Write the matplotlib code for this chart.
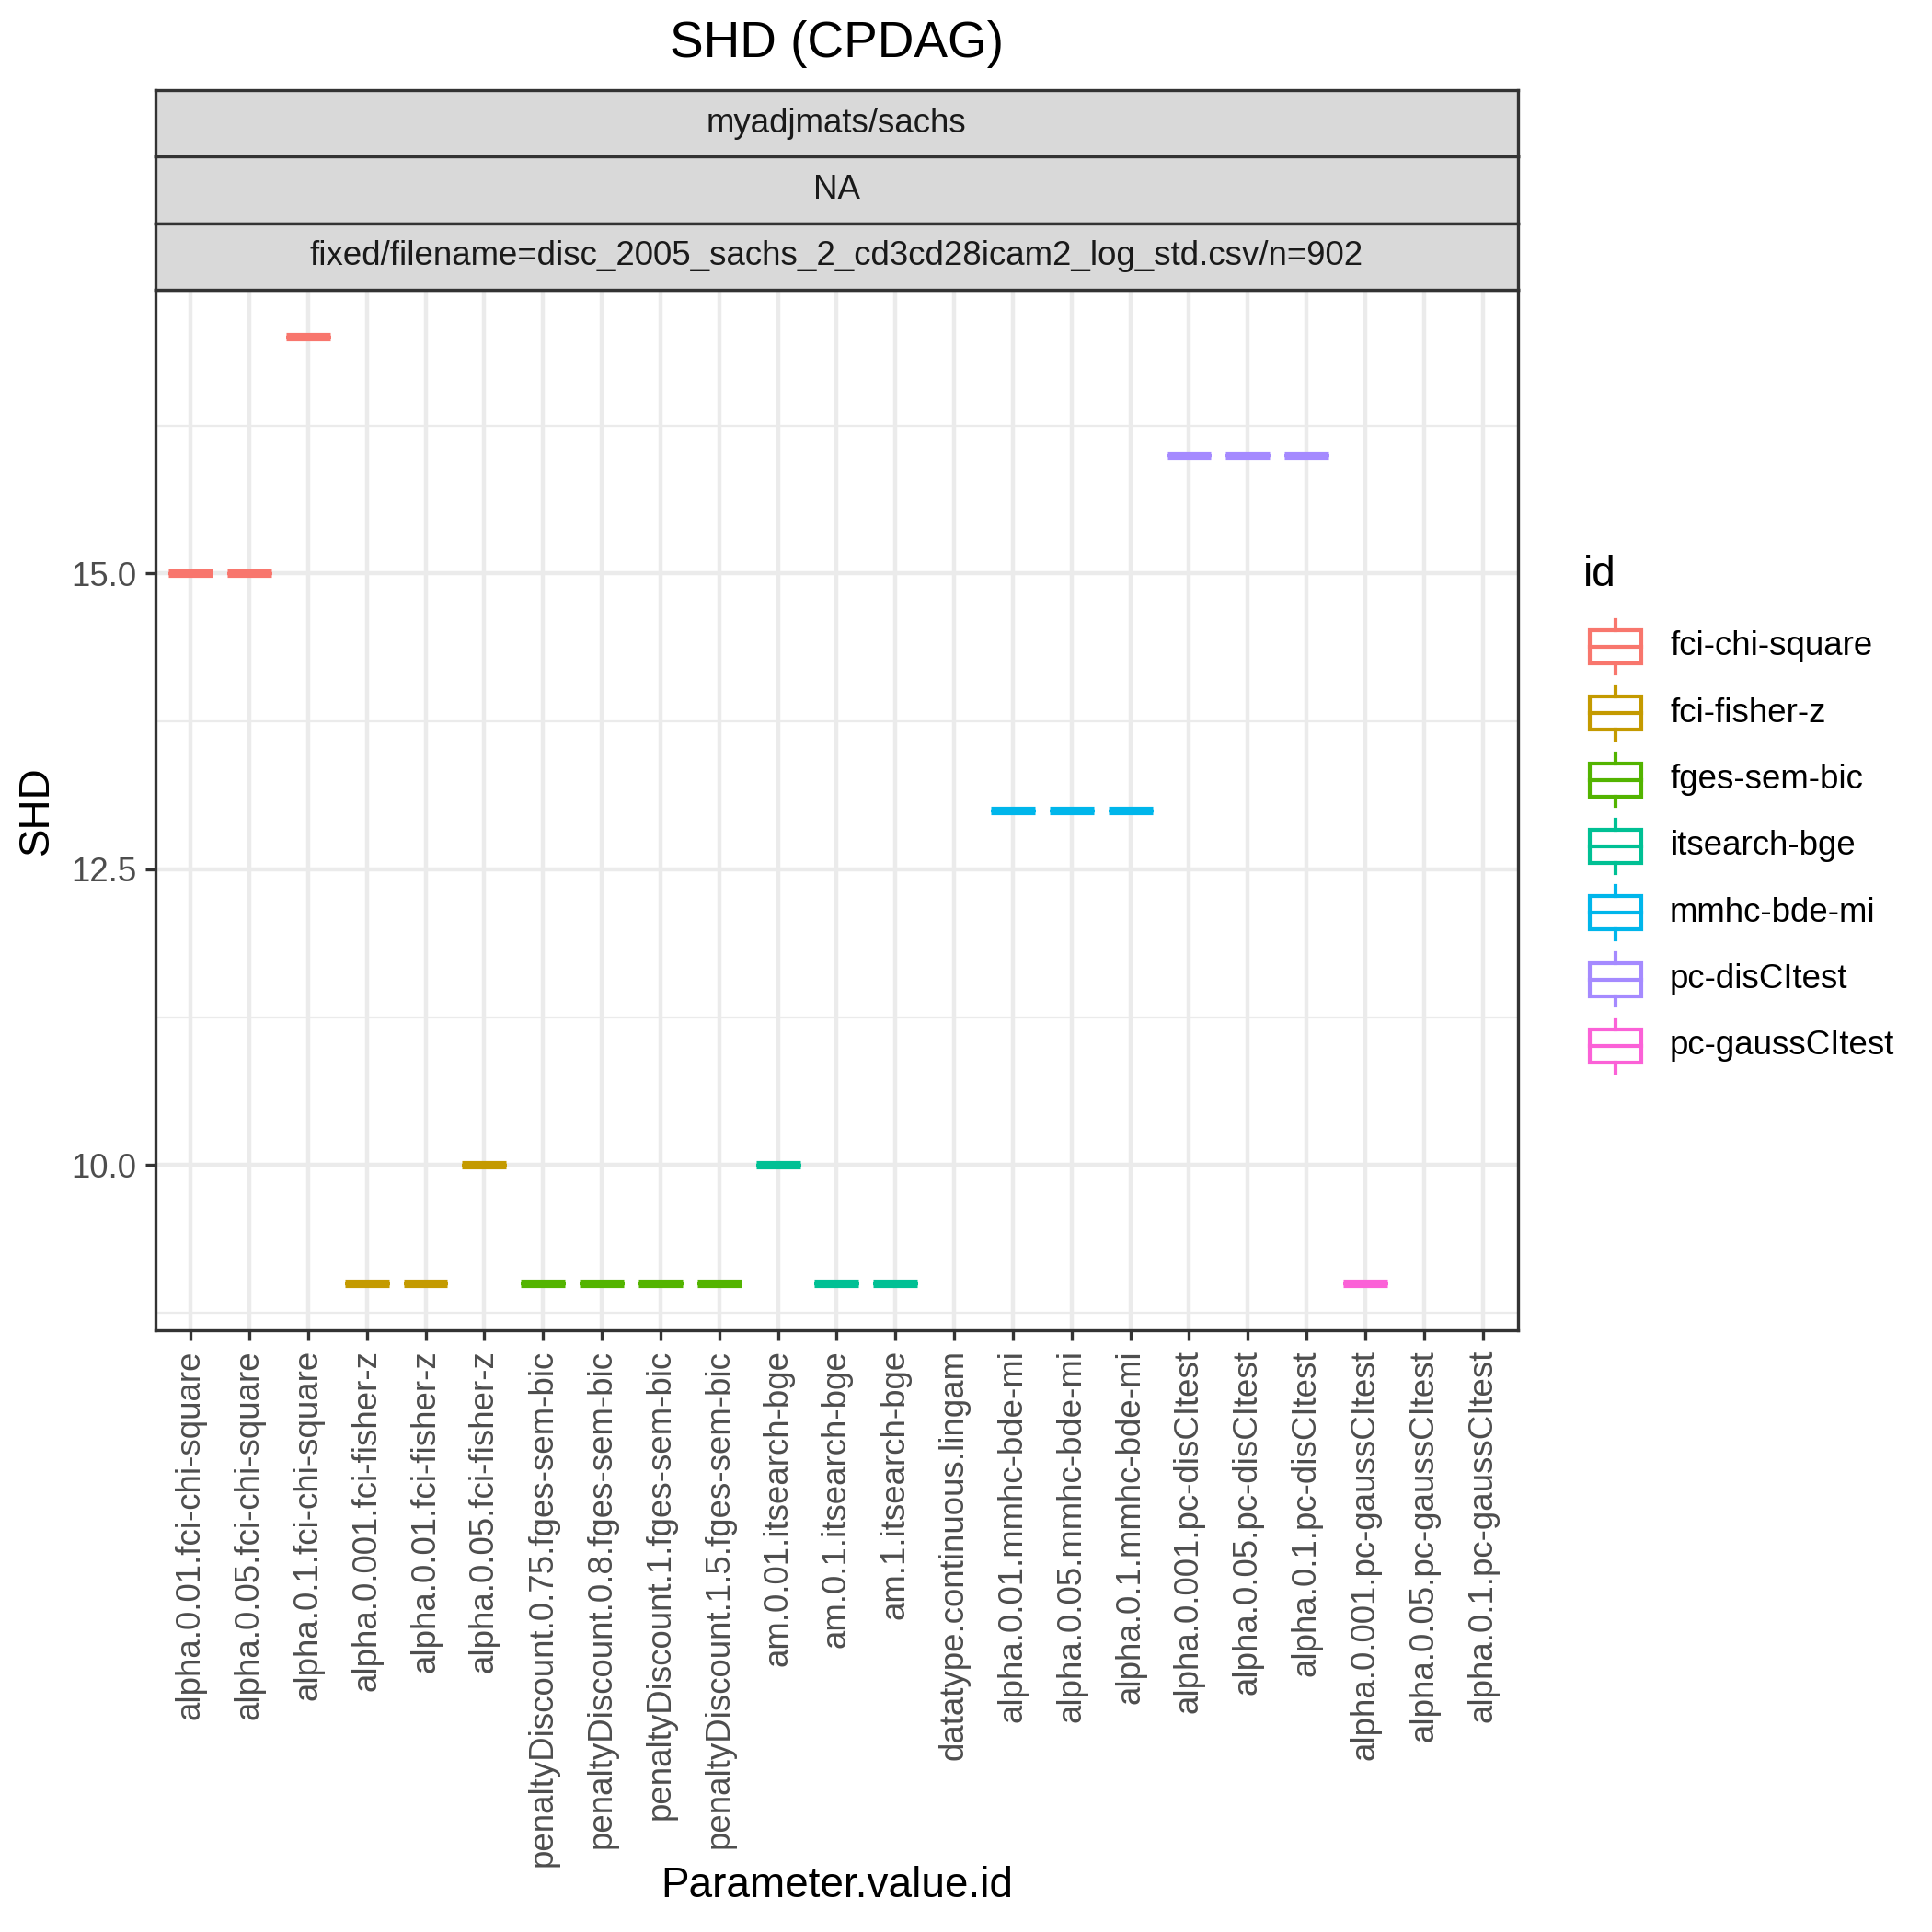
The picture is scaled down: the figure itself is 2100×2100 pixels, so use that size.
import numpy as np
import matplotlib
matplotlib.use("Agg")
import matplotlib.pyplot as plt
from matplotlib.patches import Rectangle
from matplotlib.lines import Line2D

plt.rcParams['font.family'] = ['Liberation Sans', 'DejaVu Sans']

# data
params = [
    "alpha.0.01.fci-chi-square", "alpha.0.05.fci-chi-square", "alpha.0.1.fci-chi-square",
    "alpha.0.001.fci-fisher-z", "alpha.0.01.fci-fisher-z", "alpha.0.05.fci-fisher-z",
    "penaltyDiscount.0.75.fges-sem-bic", "penaltyDiscount.0.8.fges-sem-bic",
    "penaltyDiscount.1.fges-sem-bic", "penaltyDiscount.1.5.fges-sem-bic",
    "am.0.01.itsearch-bge", "am.0.1.itsearch-bge", "am.1.itsearch-bge",
    "datatype.continuous.lingam",
    "alpha.0.01.mmhc-bde-mi", "alpha.0.05.mmhc-bde-mi", "alpha.0.1.mmhc-bde-mi",
    "alpha.0.001.pc-disCItest", "alpha.0.05.pc-disCItest", "alpha.0.1.pc-disCItest",
    "alpha.0.001.pc-gaussCItest", "alpha.0.05.pc-gaussCItest", "alpha.0.1.pc-gaussCItest",
]
ids = [
    "fci-chi-square", "fci-chi-square", "fci-chi-square",
    "fci-fisher-z", "fci-fisher-z", "fci-fisher-z",
    "fges-sem-bic", "fges-sem-bic", "fges-sem-bic", "fges-sem-bic",
    "itsearch-bge", "itsearch-bge", "itsearch-bge",
    "lingam",
    "mmhc-bde-mi", "mmhc-bde-mi", "mmhc-bde-mi",
    "pc-disCItest", "pc-disCItest", "pc-disCItest",
    "pc-gaussCItest", "pc-gaussCItest", "pc-gaussCItest",
]
shd = [15, 15, 17, 9, 9, 10, 9, 9, 9, 9, 10, 9, 9, np.nan,
       13, 13, 13, 16, 16, 16, 9, np.nan, np.nan]

legend_ids = ["fci-chi-square", "fci-fisher-z", "fges-sem-bic", "itsearch-bge",
              "mmhc-bde-mi", "pc-disCItest", "pc-gaussCItest"]
legend_colors = ["#F8766D", "#C49A00", "#53B400", "#00C094",
                 "#00B6EB", "#A58AFF", "#FB61D7"]
strips = ["myadjmats/sachs", "NA",
          "fixed/filename=disc_2005_sachs_2_cd3cd28icam2_log_std.csv/n=902"]

col_of = dict(zip(legend_ids, legend_colors))
grey20 = "#333333"
grey30 = "#4D4D4D"

fig = plt.figure(figsize=(7, 7), dpi=300)
ax = fig.add_axes([0.0804, 0.3112, 0.7053, 0.5389])

x = np.arange(len(params))
for xi, v, g in zip(x, shd, ids):
    if np.isnan(v):
        continue
    c = col_of[g]
    ax.boxplot([[v]], positions=[xi], widths=0.75, showcaps=False, showfliers=False,
               manage_ticks=False,
               boxprops=dict(color=c, linewidth=0.8, solid_joinstyle="bevel",
                             solid_capstyle="butt"),
               whiskerprops=dict(color=c, linewidth=0.8),
               medianprops=dict(color=c, linewidth=2.2, solid_capstyle="butt"))

ax.set_xlim(-0.6, len(params) - 1 + 0.6)
ax.set_ylim(8.6, 17.4)
ax.set_xticks(x)
ax.set_xticklabels(params, rotation=90, fontsize=8.8, color=grey30)
ax.set_yticks([10, 12.5, 15])
ax.set_yticklabels(["10.0", "12.5", "15.0"], fontsize=8.8, color=grey30)
ax.set_yticks([8.75, 11.25, 13.75, 16.25], minor=True)
ax.tick_params(axis="both", which="major", length=2.75, width=0.8, color=grey20, pad=2.2)
ax.tick_params(axis="y", which="minor", length=0)
ax.grid(True, which="major", color="#EBEBEB", linewidth=1.07)
ax.grid(True, which="minor", axis="y", color="#EBEBEB", linewidth=0.53)
ax.set_axisbelow(True)
for s in ax.spines.values():
    s.set_color(grey20)
    s.set_linewidth(0.8)

# facet strips
sh = 0.0344
for k, label in enumerate(strips):
    b = 0.8501 + (len(strips) - 1 - k) * sh
    sax = fig.add_axes([0.0804, b, 0.7053, sh])
    sax.set_facecolor("#D9D9D9")
    sax.set_xticks([])
    sax.set_yticks([])
    for s in sax.spines.values():
        s.set_color(grey20)
        s.set_linewidth(0.8)
    sax.text(0.5, 0.5, label, ha="center", va="center", fontsize=8.8,
             color="#1A1A1A", transform=sax.transAxes)

fig.text(0.0804 + 0.7053 / 2, 0.977, "SHD (CPDAG)", ha="center", va="center", fontsize=13.2)
fig.text(0.0804 + 0.7053 / 2, 0.024, "Parameter.value.id", ha="center", va="center", fontsize=11)
fig.text(0.019, 0.3112 + 0.5389 / 2, "SHD", ha="center", va="center", rotation=90, fontsize=11)

# legend with boxplot keys
fig.text(0.8195, 0.6967, "id", ha="left", va="baseline", fontsize=11)
kx = 0.8362
kw = 0.0270
kh = 72 / 2100
for j, (name, c) in enumerate(zip(legend_ids, legend_colors)):
    cy = 1 - (703 + 72.3 * j) / 2100
    fig.add_artist(Rectangle((kx - kw / 2, cy - kh * 0.25), kw, kh * 0.5,
                             fill=False, edgecolor=c, linewidth=1.0,
                             transform=fig.transFigure))
    fig.add_artist(Line2D([kx - kw / 2, kx + kw / 2], [cy, cy], color=c, linewidth=1.0,
                          transform=fig.transFigure))
    fig.add_artist(Line2D([kx, kx], [cy + kh * 0.25, cy + kh * 0.4], color=c, linewidth=1.0,
                          transform=fig.transFigure))
    fig.add_artist(Line2D([kx, kx], [cy - kh * 0.25, cy - kh * 0.4], color=c, linewidth=1.0,
                          transform=fig.transFigure))
    fig.text(0.8643, cy, name, ha="left", va="center", fontsize=8.8)

fig.savefig("out.png", dpi=300)
